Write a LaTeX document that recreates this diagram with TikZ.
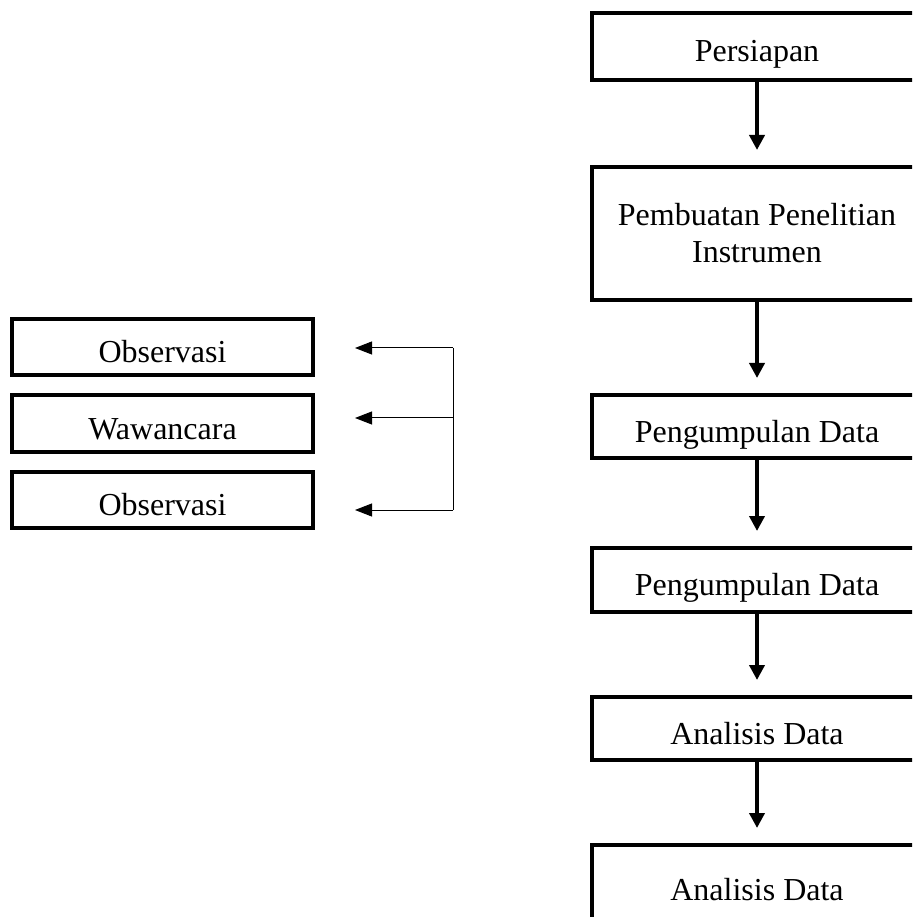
\documentclass[tikz,border=0pt]{standalone}
\usepackage{fontspec}
\setmainfont{Liberation Serif}
\usepackage{tikz}
\usetikzlibrary{shapes,arrows.meta,positioning}

\begin{document}
\begin{tikzpicture}[x=0.4pt,y=-0.4pt]
    %styles
    \tikzstyle{step box}=[rectangle,draw,line width=1.6pt,align=center,minimum width=132pt,text height=12.4pt,text depth=0pt,font=\fontsize{12.8pt}{14.8pt}\selectfont]
    \tikzstyle{method}=[rectangle,draw,line width=1.6pt,align=center,minimum width=120.4pt,minimum height=22.4pt,text height=12.4pt,text depth=0pt,font=\fontsize{12.8pt}{14.8pt}\selectfont]
    \tikzstyle{flow}=[-{Triangle[length=6pt,width=6pt]},line width=1.6pt,shorten >=6pt]
    \tikzstyle{branch}=[-{Triangle[length=6.8pt,width=5.2pt]},line width=0.4pt,shorten >=16pt]
    \useasboundingbox (0,0) rectangle (912,917);
    \clip (0,0) rectangle (912,917);
    %nodes
    \node[step box,minimum height=26.8pt] (s1) at (757,46.5) {Persiapan};
    \node[step box,minimum height=53.2pt,text height={},text depth={}] (s2) at (757,233.5) {Pembuatan Penelitian\\Instrumen};
    \node[step box,minimum height=25.2pt] (s3) at (757,426.5) {Pengumpulan Data};
    \node[step box,minimum height=25.6pt] (s4) at (757,580) {Pengumpulan Data};
    \node[step box,minimum height=25.2pt] (s5) at (757,728.5) {Analisis Data};
    \node[step box,minimum height=32pt] (s6) at (757,885) {Analisis Data};

    \node[method] (o1) at (162.5,347.5) {Observasi};
    \node[method] (w1) at (162.5,423.5) {Wawancara};
    \node[method] (o2) at (162.5,500) {Observasi};

    \coordinate (j1) at (453,348);
    \coordinate (j2) at (453,418);
    \coordinate (j3) at (453,510);

    %arraws
    \draw[flow] (s1)--(s2);
    \draw[flow] (s2)--(s3);
    \draw[flow] (s3)--(s4);
    \draw[flow] (s4)--(s5);
    \draw[flow] (s5)--(s6);

    \draw[line width=0.4pt] (j1)--(j3);
    \draw[branch] (j1)--(j1 -| o1.east);
    \draw[branch] (j2)--(j2 -| w1.east);
    \draw[branch] (j3)--(j3 -| o2.east);

\end{tikzpicture}
\end{document}
